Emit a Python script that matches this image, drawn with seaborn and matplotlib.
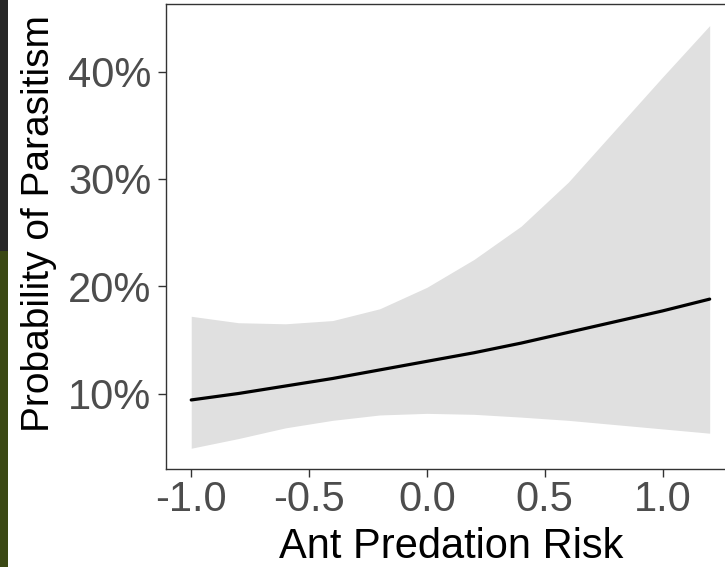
import numpy as np
import pandas as pd
import matplotlib
matplotlib.use("Agg")
import matplotlib.pyplot as plt
import seaborn as sns
from matplotlib.ticker import PercentFormatter
from matplotlib.patches import Rectangle

# ---- data ----
ant_risk = [-1.0, -0.8, -0.6, -0.4, -0.2, 0.0, 0.2, 0.4, 0.6, 0.8, 1.0, 1.2]
prob_fit = [0.094, 0.100, 0.107, 0.114, 0.122, 0.130, 0.138, 0.147, 0.157, 0.167, 0.177, 0.188]
prob_lower = [0.049, 0.058, 0.068, 0.075, 0.080, 0.0815, 0.0806, 0.078, 0.075, 0.071, 0.067, 0.063]
prob_upper = [0.172, 0.166, 0.165, 0.168, 0.179, 0.199, 0.225, 0.256, 0.297, 0.346, 0.395, 0.443]
x_ticks = [-1.0, -0.5, 0.0, 0.5, 1.0]
y_ticks = [0.10, 0.20, 0.30, 0.40]
x_title = "Ant Predation Risk"
y_title = "Probability of Parasitism"

df = pd.DataFrame({"risk": ant_risk, "fit": prob_fit, "lo": prob_lower, "hi": prob_upper})

sns.set_theme(style="white")
plt.rcParams["font.family"] = ["Liberation Sans", "DejaVu Sans"]

W, H = 725, 567
fig = plt.figure(figsize=(W / 100, H / 100), dpi=100)
fig.patch.set_facecolor("white")

# left strip of the surrounding slide
fig.patches.append(Rectangle((0, 1 - 251 / H), 7.5 / W, 251 / H, transform=fig.transFigure,
                             facecolor="#272727", edgecolor="none", zorder=0))
fig.patches.append(Rectangle((0, 0), 7.5 / W, 1 - 251 / H, transform=fig.transFigure,
                             facecolor="#3b4814", edgecolor="none", zorder=0))

left, right, top, bottom = 166, 725, 4, 468.5
ax = fig.add_axes([left / W, 1 - bottom / H, (right - left) / W, (bottom - top) / H])
ax.set_facecolor("white")

ax.fill_between(df["risk"], df["lo"], df["hi"], color="#e0e0e0", linewidth=0, zorder=1)
sns.lineplot(data=df, x="risk", y="fit", ax=ax, color="black", linewidth=2.3, zorder=2)

ax.set_xlim(-1.107, 1.265)
ax.set_ylim(0.0301, 0.4631)
ax.set_xticks(x_ticks)
ax.set_xticklabels(["-1.0", "-0.5", "0.0", "0.5", "1.0"])
ax.set_yticks(y_ticks)
ax.yaxis.set_major_formatter(PercentFormatter(xmax=1, decimals=0))

for s in ["left", "bottom", "top"]:
    ax.spines[s].set_visible(True)
    ax.spines[s].set_color("#333333")
    ax.spines[s].set_linewidth(1.0)
ax.spines["right"].set_visible(False)

ax.tick_params(axis="both", which="major", length=5.5, width=1.0, color="#333333",
               labelsize=30, labelcolor="#4d4d4d", direction="out",
               bottom=True, left=True, top=False, right=False)
ax.tick_params(axis="y", pad=5)
ax.tick_params(axis="x", pad=3)

ax.set_xlabel(x_title, fontsize=30, color="black")
ax.set_ylabel(y_title, fontsize=28, color="black")
ax.xaxis.set_label_coords((451 - left) / (right - left), -(527 - bottom) / (bottom - top))
ax.yaxis.set_label_coords(-(left - 57) / (right - left), (bottom - 224) / (bottom - top))

fig.savefig("out.png", dpi=100, facecolor="white")
